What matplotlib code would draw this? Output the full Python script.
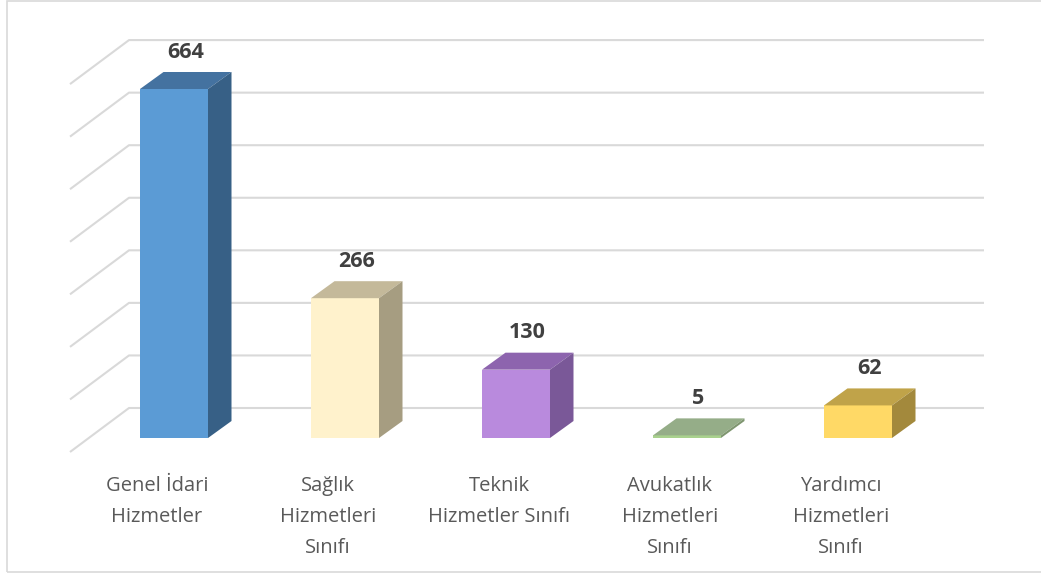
import matplotlib.pyplot as plt
from matplotlib.patches import Polygon, Rectangle
import numpy as np

# data
categories = ['Genel İdari\nHizmetler', 'Sağlık\nHizmetleri\nSınıfı', 'Teknik\nHizmetler Sınıfı',
              'Avukatlık\nHizmetleri\nSınıfı', 'Yardımcı\nHizmetleri\nSınıfı']
values = [664, 266, 130, 5, 62]
grid_ticks = [0, 100, 200, 300, 400, 500, 600, 700]

# colours (front, top, side)
front_c = ['#5B9BD5', '#FFF2CC', '#B98ADD', '#A9D18E', '#FFD966']
top_c = ['#4472A0', '#C4B99A', '#8D64AE', '#95AD88', '#C0A349']
side_c = ['#376086', '#A69D81', '#7A5898', '#7F9670', '#A3893C']

plt.rcParams['font.family'] = ['Open Sans', 'DejaVu Sans']

W, H, DPI = 1041, 577, 100
fig = plt.figure(figsize=(W / DPI, H / DPI), dpi=DPI)
ax = fig.add_axes([0, 0, 1, 1])

# pixel -> data scale
px_cat = 171.0      # pixels per category
px_val = 0.5256     # pixels per unit value
x0_px, base_px = 174.0, 438.0
ax.set_xlim((0 - x0_px) / px_cat, (W - x0_px) / px_cat)
ax.set_ylim((base_px - H) / px_val, base_px / px_val)
ax.axis('off')

def cx(px):
    return px / px_cat

def cy(px):
    return px / px_val

# back wall + floor diagonals
wall_dy = cy(30)
floor_dy = cy(14)
x_front_left = cx(70 - x0_px)
x_wall_left = cx(129 - x0_px)
x_right = cx(984 - x0_px)
for g in grid_ticks:
    ax.plot([x_front_left, x_wall_left, x_right], [g - floor_dy, g + wall_dy, g + wall_dy],
            color='#D9D9D9', lw=1.5, solid_capstyle='butt', zorder=1)

# 3D bars
w = cx(68)
ddx, ddy = cx(23.5), cy(17)
for i, v in enumerate(values):
    l, r = i - w / 2, i + w / 2
    ax.add_patch(Rectangle((l, 0), w, v, facecolor=front_c[i], edgecolor='none', zorder=3))
    ax.add_patch(Polygon([(l, v), (r, v), (r + ddx, v + ddy), (l + ddx, v + ddy)],
                         closed=True, facecolor=top_c[i], edgecolor='none', zorder=3))
    ax.add_patch(Polygon([(r, 0), (r + ddx, ddy), (r + ddx, v + ddy), (r, v)],
                         closed=True, facecolor=side_c[i], edgecolor='none', zorder=3))
    ax.text(i + cx(11.5), v + ddy + cy(20), str(v), ha='center', va='center',
            fontsize=15.5, fontweight='bold', color='#404040', zorder=4)
    ax.text(i - cx(17), cy(438 - 476), categories[i], ha='center', va='top',
            fontsize=14.5, color='#595959', linespacing=1.72, zorder=4)

# chart border
fig.patches.append(Rectangle((7, 5), W + 10, H - 5 - 1, transform=None, fill=False,
                             edgecolor='#D9D9D9', lw=1.2))

fig.savefig('out.png', dpi=DPI)
